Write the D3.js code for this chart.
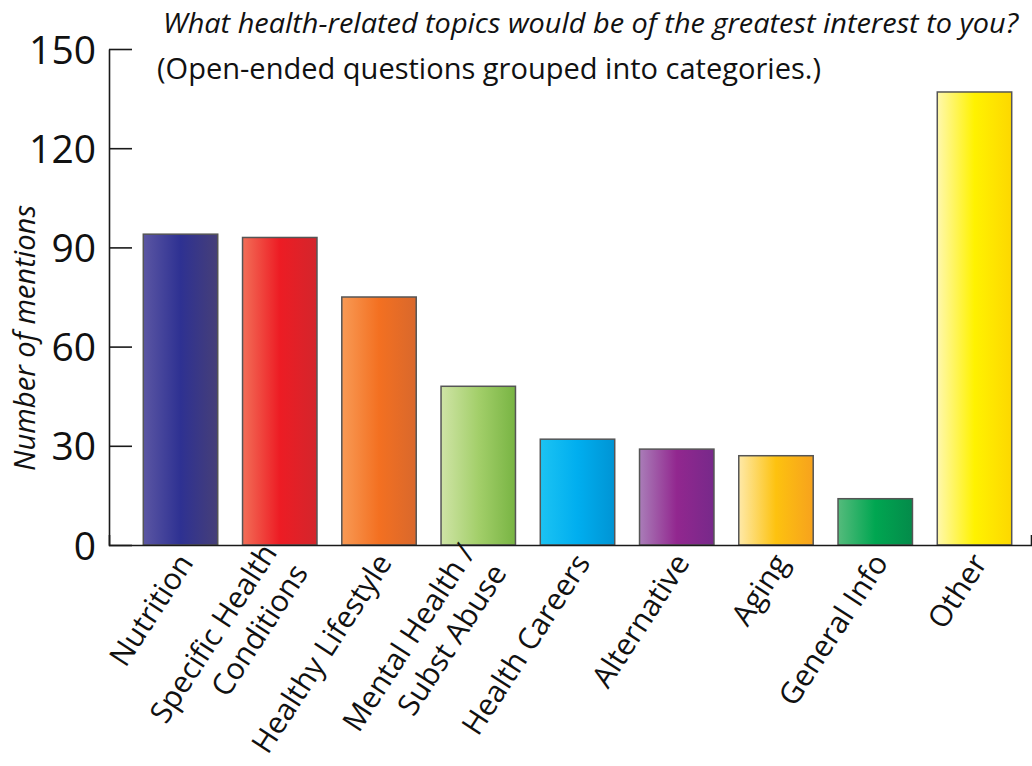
<!DOCTYPE html>
<html>
<head>
<meta charset="utf-8">
<script src="https://cdn.jsdelivr.net/npm/d3@7"></script>
<style>
  html, body { margin: 0; padding: 0; background: #fff; }
  svg { display: block; }
  text { font-family: "Open Sans", "Noto Sans", sans-serif; fill: #111; }
</style>
</head>
<body>
<svg id="chart" width="1032" height="766"></svg>
<script>
// Survey answers: number of mentions per topic category
const categories = [
  ["Nutrition"],
  ["Specific Health", "Conditions"],
  ["Healthy Lifestyle"],
  ["Mental Health /", "Subst Abuse"],
  ["Health Careers"],
  ["Alternative"],
  ["Aging"],
  ["General Info"],
  ["Other"]
];
const mentions = [94, 93, 75, 48, 32, 29, 27, 14, 137];
const yTicks = [0, 30, 60, 90, 120, 150];

// Each bar is shaded left-to-right: light edge, full colour, darker edge
const barShades = [
  ["#5b56a3", "#2e3192", "#463f78"],
  ["#f26e57", "#ed1c24", "#d3262c"],
  ["#f89a55", "#f37021", "#d9682c"],
  ["#cfe4a6", "#a3cf6a", "#78b443"],
  ["#1cc3f3", "#00aeef", "#0094d4"],
  ["#a97db8", "#92278f", "#77298a"],
  ["#fee9a8", "#fdc20f", "#f7a21d"],
  ["#55bb7c", "#00a651", "#048b4a"],
  ["#fff8ad", "#fff200", "#fdd800"]
];

const title = "What health-related topics would be of the greatest interest to you?";
const subtitle = "(Open-ended questions grouped into categories.)";
const yLabel = "Number of mentions";

const svg = d3.select("#chart");
const baseY = 545, topY = 49, leftX = 109, rightX = 1031;

const y = d3.scaleLinear().domain([0, 150]).range([baseY, topY]);
const x = d3.scaleBand()
  .domain(d3.range(categories.length))
  .range([leftX, rightX])
  .paddingInner(0.25)
  .paddingOuter(0.27)
  .align(0.64);

// gradients
const defs = svg.append("defs");
barShades.forEach((s, i) => {
  const g = defs.append("linearGradient")
    .attr("id", "shade" + i)
    .attr("x1", "0%").attr("x2", "100%").attr("y1", "0%").attr("y2", "0%");
  g.append("stop").attr("offset", "0%").attr("stop-color", s[0]);
  g.append("stop").attr("offset", "50%").attr("stop-color", s[1]);
  g.append("stop").attr("offset", "100%").attr("stop-color", s[2]);
});

// bars
svg.append("g")
  .selectAll("rect")
  .data(mentions)
  .join("rect")
  .attr("x", (d, i) => x(i))
  .attr("y", d => y(d))
  .attr("width", x.bandwidth())
  .attr("height", d => baseY - y(d))
  .attr("fill", (d, i) => `url(#shade${i})`)
  .attr("stroke", "#555")
  .attr("stroke-width", 1.5);

// x axis: baseline with an end tick pointing up
const xAxis = svg.append("g")
  .attr("transform", `translate(0,${baseY})`)
  .call(d3.axisBottom(x).tickSizeInner(0).tickSizeOuter(-10).tickFormat(""));
xAxis.selectAll(".tick").remove();
xAxis.select(".domain").attr("stroke", "#1a1a1a").attr("stroke-width", 1.6);

// y axis: ticks pointing inward
const yAxis = svg.append("g")
  .attr("transform", `translate(${leftX},0)`)
  .call(d3.axisLeft(y).tickValues(yTicks).tickSizeInner(-23).tickSizeOuter(0).tickPadding(13));
yAxis.select(".domain").attr("stroke", "#1a1a1a").attr("stroke-width", 1.6);
yAxis.selectAll(".tick line").attr("stroke", "#1a1a1a").attr("stroke-width", 1.6);
yAxis.selectAll(".tick text")
  .attr("font-size", 39)
  .attr("font-family", '"Open Sans", sans-serif')
  .attr("fill", "#111")
  .attr("dy", "0.36em");

// category labels, rotated, block centred under each bar
const angle = -57, lineH = 37;
const labels = svg.append("g")
  .selectAll("text")
  .data(categories)
  .join("text")
  .attr("transform", (d, i) => `translate(${x(i) + x.bandwidth() / 2 + 5},${baseY + 12}) rotate(${angle})`)
  .attr("text-anchor", "end")
  .attr("font-size", 30);
labels.each(function (lines) {
  const t = d3.select(this);
  lines.forEach((ln, k) => {
    t.append("tspan")
      .attr("x", 0)
      .attr("y", (k - (lines.length - 1) / 2) * lineH)
      .attr("dy", "0.35em")
      .text(ln);
  });
});

// y axis title
svg.append("text")
  .attr("transform", "translate(35,338) rotate(-90)")
  .attr("text-anchor", "middle")
  .attr("font-size", 29)
  .attr("font-style", "italic")
  .attr("textLength", 266)
  .attr("lengthAdjust", "spacingAndGlyphs")
  .text(yLabel);

// headings
svg.append("text")
  .attr("x", 163).attr("y", 33)
  .attr("font-size", 28)
  .attr("font-style", "italic")
  .attr("textLength", 855)
  .attr("lengthAdjust", "spacingAndGlyphs")
  .text(title);
svg.append("text")
  .attr("x", 157).attr("y", 79)
  .attr("font-size", 30)
  .attr("textLength", 664)
  .attr("lengthAdjust", "spacingAndGlyphs")
  .text(subtitle);
</script>
</body>
</html>
